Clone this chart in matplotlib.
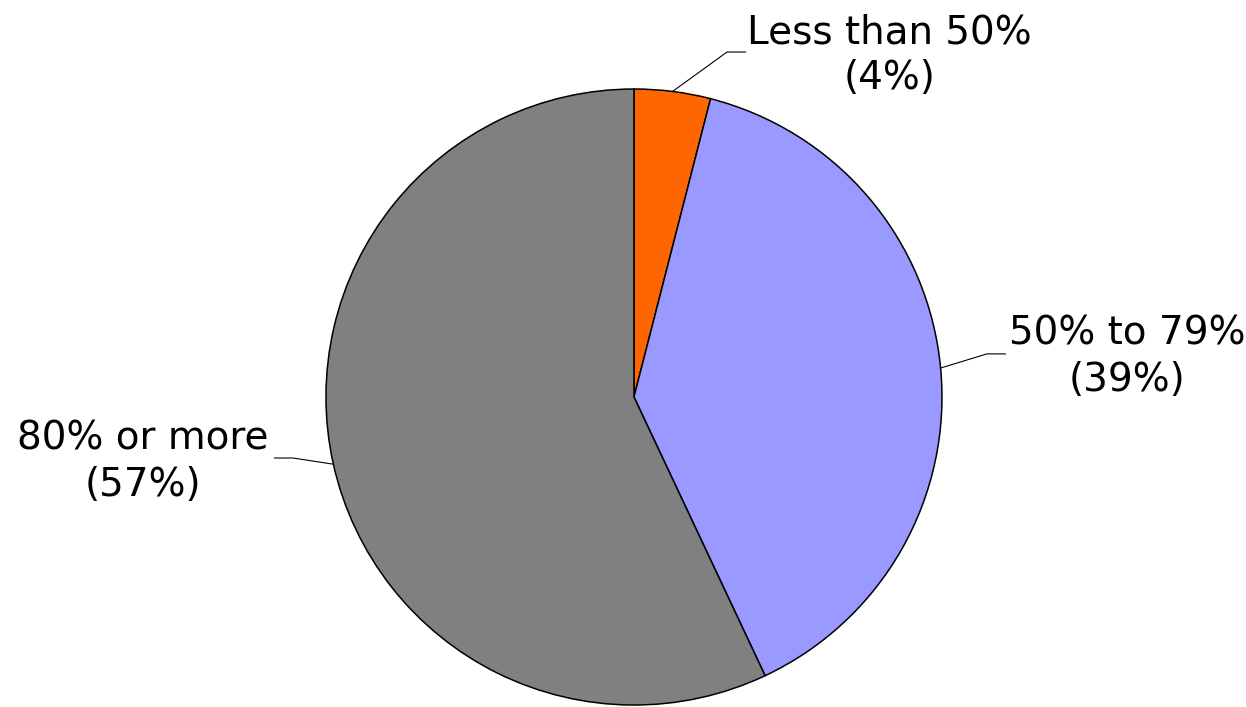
import numpy as np
import matplotlib.pyplot as plt

labels = ["Less than 50%", "50% to 79%", "80% or more"]
shares = [4, 39, 57]
colors = ["#ff6600", "#9999ff", "#808080"]

# elbow and label positions, in pie radii
elbows = [(0.302, 1.120), (1.146, 0.140), (-1.107, -0.198)]
label_pos = [(0.83, 1.11), (1.60, 0.13), (-1.594, -0.211)]

fig = plt.figure(figsize=(12.46, 7.07), dpi=100)
ax = fig.add_axes([0.2616, 0.0028, 0.4944, 0.8713])

wedges, _ = ax.pie(shares, colors=colors, startangle=90, counterclock=False,
                   wedgeprops=dict(edgecolor="black", linewidth=1.1))
ax.set_xlim(-1, 1)
ax.set_ylim(-1, 1)
ax.set_aspect("equal")
ax.axis("off")

for w, name, pct, (ex, ey), (tx, ty) in zip(wedges, labels, shares, elbows, label_pos):
    mid = np.deg2rad((w.theta1 + w.theta2) / 2)
    x0, y0 = np.cos(mid), np.sin(mid)
    side = 1 if ex > 0 else -1
    ax.plot([x0, ex, ex + side * 0.06], [y0, ey, ey], color="black",
            linewidth=0.8, clip_on=False)
    ax.text(tx, ty, f"{name}\n({pct}%)", ha="center", va="center",
            fontsize=28, linespacing=1.27, family="DejaVu Sans")

fig.savefig("out.png", dpi=100)
